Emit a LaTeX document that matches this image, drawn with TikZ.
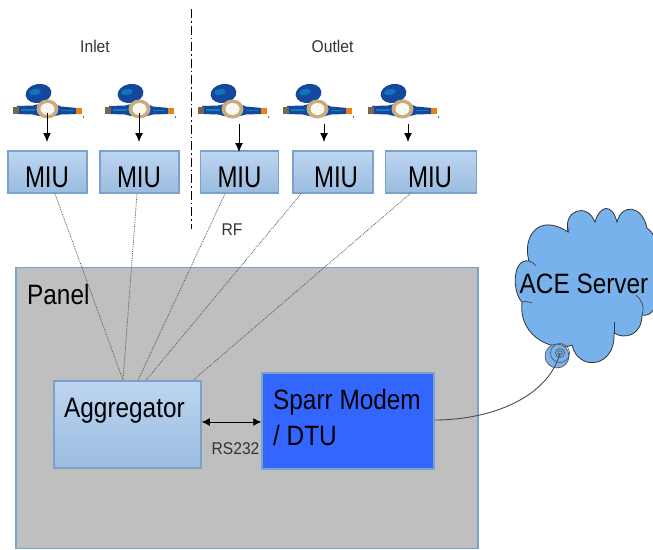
\documentclass[tikz,border=0pt]{standalone}
\usepackage{graphicx}
\usepackage{fontspec}
\setmainfont{Liberation Sans}
\usetikzlibrary{arrows.meta,calc}
\definecolor{bordc}{HTML}{7AA2CB}
\definecolor{boxtop}{HTML}{BDD5F0}
\definecolor{boxbot}{HTML}{9ABCE0}
\definecolor{panelc}{HTML}{BFBFBF}
\definecolor{modemc}{HTML}{3366FF}
\definecolor{cloudc}{HTML}{78B2EC}
\definecolor{meterblue}{HTML}{14479E}
\definecolor{meterbrass}{HTML}{C8AC7C}
\definecolor{linkc}{HTML}{555555}
\newcommand{\narrowbig}[1]{\scalebox{.87}[1]{#1}}
\newcommand{\narrowmiu}[1]{\scalebox{.8}[1]{#1}}
\newcommand{\narrowsmall}[1]{\scalebox{.92}[1]{#1}}
\tikzset{
  x=1pt,y=-1pt,
  boxstyle/.style={draw=bordc,line width=1.5pt,top color=boxtop,bottom color=boxbot,inner sep=0pt,minimum height=42pt},
  miutext/.style={font=\fontsize{30}{32}\selectfont,text=black,inner sep=0pt},
  smalltext/.style={font=\fontsize{17}{19}\selectfont,text=black!80,inner sep=0pt},
  biglabel/.style={font=\fontsize{28}{30}\selectfont,text=black,inner sep=0pt,anchor=west},
  rflink/.style={linkc,densely dotted,line width=.8pt},
  feed/.style={-{Latex[length=9pt,width=8pt]},line width=.9pt,black},
  pics/watermeter/.style={code={
    \fill[meterblue] (-30,-4) -- (-14,-4.5) -- (-8,-6) -- (8,-6) -- (14,-3.5) -- (30,-2) -- (30,4) -- (14,4.5) -- (8,6) -- (-8,6) -- (-14,4.5) -- (-30,4) -- cycle;
    \fill[meterblue!70!cyan] (-26,-1.5) rectangle (-12,.5);
    \fill[meterblue!70!cyan] (14,-.5) rectangle (26,1);
    \fill[meterbrass!60!black] (-34,-3.5) rectangle (-28,3.5);
    \fill[orange!70!brown] (29,-2.5) rectangle (35,4);
    \fill[meterblue] (-6,-12) rectangle (-1,-6);
    \fill[meterblue,rotate around={10:(-8.5,-16.5)}] (-8.5,-16.5) ellipse [x radius=13,y radius=9.5];
    \fill[meterblue!75!cyan,rotate around={10:(-12,-18)}] (-12,-18) ellipse [x radius=6,y radius=3];
    \fill[meterbrass] (0.5,-1) ellipse [x radius=11,y radius=9.5];
    \fill[white!90!meterbrass] (0.5,-1) ellipse [x radius=7,y radius=6];
    \fill[linkc] (36.5,7) circle (.8);
  }}
}
\begin{document}
\begin{tikzpicture}
\useasboundingbox (0,0) rectangle (653,549);
% panel
\node[draw=bordc,line width=1.5pt,fill=panelc,inner sep=0pt,minimum width=462pt,minimum height=281pt] (panel) at (247,408) {};
\node[biglabel] (paneltxt) at (27,294) {\narrowbig{Panel}};
% divider
\coordinate (divtop) at (191,9);
\coordinate (divbot) at (191,229);
\draw[black,line width=.8pt,dash pattern=on 9pt off 3pt on 1.5pt off 3pt] (divtop) -- (divbot);
\node[smalltext] (inlet) at (95,46) {\narrowsmall{Inlet}};
\node[smalltext] (outlet) at (332.5,46) {\narrowsmall{Outlet}};
% meters
\pic (m1) at (47,110) {watermeter};
\pic (m2) at (139,110) {watermeter};
\pic (m3) at (232,110) {watermeter};
\pic (m4) at (317,110) {watermeter};
\pic (m5) at (402,110) {watermeter};
% MIU boxes
\node[boxstyle,minimum width=79pt] (miu1) at (47.5,172) {};
\node[boxstyle,minimum width=79pt] (miu2) at (139.5,172) {};
\node[boxstyle,minimum width=78pt] (miu3) at (239.5,172) {};
\node[boxstyle,minimum width=80pt] (miu4) at (333,172) {};
\node[boxstyle,minimum width=91pt] (miu5) at (431,172) {};
\node[miutext] (t1) at (47,177.5) {\narrowmiu{MIU}};
\node[miutext] (t2) at (139,177.5) {\narrowmiu{MIU}};
\node[miutext] (t3) at (239.5,177.5) {\narrowmiu{MIU}};
\node[miutext] (t4) at (336,177.5) {\narrowmiu{MIU}};
\node[miutext] (t5) at (430,177.5) {\narrowmiu{MIU}};
% meter outputs
\coordinate (a1) at (47,113); \coordinate (b1) at (47,142);
\coordinate (a2) at (139,113); \coordinate (b2) at (139,142);
\coordinate (a3) at (239,124); \coordinate (b3) at (239,152);
\coordinate (a4) at (324,124); \coordinate (b4) at (324,142);
\coordinate (a5) at (408,124); \coordinate (b5) at (408,142);
\foreach \i in {1,...,5} \draw[feed] (a\i) -- (b\i);
% aggregator, modem
\node[boxstyle,minimum width=147pt,minimum height=87pt] (agg) at (127.5,424.5) {};
\node[biglabel] (aggt) at (64,411) {\narrowbig{Aggregator}};
\node[draw=bordc,line width=1.5pt,fill=modemc,inner sep=0pt,minimum width=172pt,minimum height=96pt] (modem) at (348,421) {};
\node[biglabel] (modt1) at (273,402) {\narrowbig{Sparr Modem}};
\node[biglabel] (modt2) at (273,435) {\narrowbig{/ DTU}};
% RF links
\draw[rflink] ([xshift=7.5]miu1.south) -- ([xshift=-4.5]agg.north);
\draw[rflink] ([xshift=-2.5]miu2.south) -- ([xshift=-4.5]agg.north);
\draw[rflink] ([xshift=-14.5]miu3.south) -- ([xshift=10.5]agg.north);
\draw[rflink] ([xshift=-32]miu4.south) -- ([xshift=18.5]agg.north);
\draw[rflink] ([xshift=-21]miu5.south) -- ([xshift=65.5]agg.north);
\node[smalltext] (rf) at (232,230) {\narrowsmall{RF}};
% RS232
\draw[{Latex[length=8pt,width=8pt]}-{Latex[length=8pt,width=8pt]},line width=.9pt] (agg.east |- 0,422) -- (modem.west |- 0,422);
\node[smalltext] (rs) at (235.5,448.5) {\narrowsmall{RS232}};
% cloud
\fill[cloudc,draw=black!80,line width=.8pt]
 (529,261)
 .. controls (522,238) and (538,212) .. (568,232)
 .. controls (563,210) and (587,202) .. (595,222)
 .. controls (600,205) and (612,203) .. (617,222)
 .. controls (622,203) and (642,205) .. (647,228)
 .. controls (652,232) and (653,234) .. (656,240)
 -- (656,305)
 .. controls (652,315) and (646,316) .. (642,315)
 .. controls (642,335) and (625,340) .. (614,333)
 .. controls (616,368) and (578,372) .. (572,345)
 .. controls (558,352) and (518,340) .. (522,302)
 .. controls (512,292) and (512,258) .. (529,261) -- cycle;
\draw[black!80,line width=.6pt] (529,261) .. controls (532,262) and (534,263) .. (536,266);
\draw[black!80,line width=.6pt] (522,302) .. controls (525,301) and (529,302) .. (532,303);
\draw[black!80,line width=.6pt] (568,232) .. controls (569,231) .. (569,228);
\draw[black!80,line width=.6pt] (614,333) -- (614,322);
\draw[black!80,line width=.6pt] (642,315) .. controls (645,305) and (641,300) .. (636,295);
\node[font=\fontsize{28}{30}\selectfont,inner sep=0pt,text=black] (acet) at (584,284) {\narrowbig{ACE Server}};
% bubbles
\coordinate (bub) at (557,356);
\coordinate (bubb) at (560,353);
\draw[black!70,fill=cloudc,line width=.6pt] (bub) circle (12);
\draw[black!70,line width=.6pt] (bubb) circle (9.5);
\draw[black!70,line width=.6pt] (bubb) circle (4.5);
\draw[black!70,line width=.6pt] (bubb) circle (2.2);
% modem to cloud
\draw[black!70,line width=.9pt] (modem.east |- 0,420) .. controls (490,420) and (548,398) .. (bubb);
\end{tikzpicture}
\end{document}
